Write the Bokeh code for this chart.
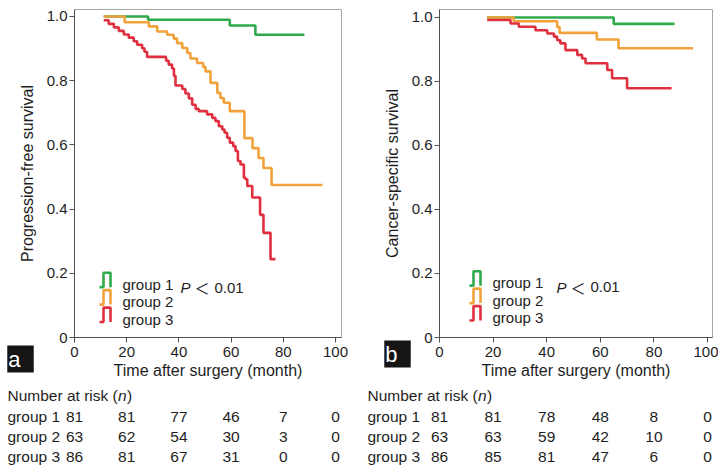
from bokeh.plotting import figure
from bokeh.models import Range1d, FixedTicker, CustomJSTickFormatter, Label, GridBox
from bokeh.embed import file_html
from bokeh.resources import INLINE

# ---------------- data ----------------
# Panel a: progression-free survival (Kaplan-Meier steps: time, survival after step)
pfs_g1_time = [11.2, 28.2, 59.5, 69.3, 88.1]
pfs_g1_surv = [1.000, 0.990, 0.972, 0.943, 0.943]

pfs_g2_time = [11.2, 19.2, 28.5, 31.7, 35.5, 38.0, 39.3, 41.3, 43.2, 44.4, 47.0, 49.3,
               50.2, 52.1, 54.7, 55.9, 57.2, 59.5, 65.1, 68.2, 70.5, 72.4, 75.5, 95.0]
pfs_g2_surv = [1.000, 0.982, 0.969, 0.953, 0.943, 0.931, 0.917, 0.902, 0.886, 0.869, 0.855, 0.843,
               0.829, 0.793, 0.762, 0.746, 0.731, 0.705, 0.621, 0.590, 0.559, 0.528, 0.475, 0.475]

pfs_g3_time = [11.2, 13.1, 15.1, 17.0, 18.9, 20.8, 22.7, 24.0, 25.9, 26.8, 27.8, 35.1,
               36.1, 37.4, 38.1, 38.7, 41.3, 42.5, 43.8, 45.1, 46.4, 47.6, 50.8, 52.8,
               54.0, 55.3, 56.6, 57.5, 58.5, 59.5, 60.8, 61.7, 62.6, 63.6, 64.9, 65.5,
               66.2, 68.1, 71.1, 72.4, 75.1, 77.0]
pfs_g3_surv = [0.988, 0.977, 0.966, 0.955, 0.944, 0.934, 0.923, 0.912, 0.901, 0.890, 0.874, 0.862,
               0.850, 0.838, 0.815, 0.785, 0.774, 0.760, 0.745, 0.725, 0.712, 0.705, 0.695, 0.684,
               0.674, 0.658, 0.648, 0.638, 0.622, 0.607, 0.596, 0.581, 0.550, 0.539, 0.498, 0.493,
               0.472, 0.436, 0.382, 0.326, 0.244, 0.244]

# Panel b: cancer-specific survival
css_g1_time = [17.8, 65.0, 87.7]
css_g1_surv = [1.000, 0.980, 0.980]

css_g2_time = [17.8, 27.7, 43.9, 44.8, 58.7, 66.8, 94.6]
css_g2_surv = [1.000, 0.988, 0.970, 0.952, 0.931, 0.904, 0.904]

css_g3_time = [17.8, 26.5, 29.6, 35.8, 40.2, 42.7, 43.9, 45.1, 47.0, 51.4, 53.2, 54.5,
               62.6, 64.4, 70.0, 86.6]
css_g3_surv = [0.992, 0.981, 0.971, 0.960, 0.950, 0.940, 0.929, 0.919, 0.898, 0.883, 0.872, 0.857,
               0.836, 0.810, 0.779, 0.779]

# Number at risk
risk_times = [0, 20, 40, 60, 80, 100]
pfs_risk_g1 = [81, 81, 77, 46, 7, 0]
pfs_risk_g2 = [63, 62, 54, 30, 3, 0]
pfs_risk_g3 = [86, 81, 67, 31, 0, 0]
css_risk_g1 = [81, 81, 78, 48, 8, 0]
css_risk_g2 = [63, 63, 59, 42, 10, 0]
css_risk_g3 = [86, 85, 81, 47, 6, 0]

group_names = ["group 1", "group 2", "group 3"]
x_ticks = [0, 20, 40, 60, 80, 100]
y_ticks = [0, 0.2, 0.4, 0.6, 0.8, 1.0]
p_text = "0.01"

# ---------------- styling ----------------
FONT = "Liberation Sans"
COLORS = ["#2faa4c", "#f2a23a", "#e0303f"]
AXIS_COLOR = "#505050"
OUTLINE_COLOR = "#a6a6a6"
TEXT_COLOR = "#1e1e1e"
PAGE_W, PAGE_H = 718, 471


def make_panel(cfg, curves, ylabel):
    L, R, T, B = cfg["frame"]
    x_end, y_top = cfg["x_end"], cfg["y_top"]
    ox = cfg["origin_x"]
    p = figure(width=cfg["width"], height=PAGE_H, output_backend="svg", toolbar_location=None,
               x_range=Range1d(0, x_end), y_range=Range1d(0, y_top),
               min_border_left=L - ox, min_border_right=cfg["width"] + ox - R,
               min_border_top=T, min_border_bottom=PAGE_H - B)
    p.grid.visible = False
    p.outline_line_color = OUTLINE_COLOR
    p.outline_line_width = 1

    def dx(px):
        return (px - L) / (R - L) * x_end

    def dy(py):
        return (B - py) / (B - T) * y_top

    for ax in (p.xaxis[0], p.yaxis[0]):
        ax.axis_line_color = AXIS_COLOR
        ax.major_tick_line_color = AXIS_COLOR
        ax.minor_tick_line_color = None
        ax.major_tick_in = 0
        ax.major_tick_out = 5
        ax.major_label_text_font = FONT
        ax.major_label_text_font_size = "15px"
        ax.major_label_text_color = TEXT_COLOR
        ax.axis_label_text_font = FONT
        ax.axis_label_text_font_size = "16px"
        ax.axis_label_text_font_style = "normal"
        ax.axis_label_text_color = TEXT_COLOR
    p.xaxis.ticker = FixedTicker(ticks=x_ticks)
    p.yaxis.ticker = FixedTicker(ticks=y_ticks)
    p.yaxis.formatter = CustomJSTickFormatter(code="return tick === 0 ? '0' : tick.toFixed(1);")
    p.xaxis.axis_label = "Time after surgery (month)"
    p.yaxis.axis_label = ylabel
    p.xaxis.major_label_standoff = 4
    p.xaxis.axis_label_standoff = 2
    p.yaxis.major_label_standoff = 2
    p.yaxis.axis_label_standoff = 8

    # survival curves
    for (t, s), c in zip(curves, COLORS):
        p.step(t, s, mode="after", line_color=c, line_width=2.6)

    # legend (step icons + names)
    lx = cfg["legend_x"]
    for i, (name, c) in enumerate(zip(group_names, COLORS)):
        base = cfg["legend_base"][i]
        top, bot = base - 11.5, base + 3
        xs = [lx, lx + 4, lx + 4, lx + 11, lx + 11]
        ys = [bot, bot, top, top, bot]
        p.line([dx(v) for v in xs], [dy(v) for v in ys], line_color=c, line_width=2.6)
        p.add_layout(Label(x=dx(lx + 23), y=dy(base), text=name, text_font=FONT,
                           text_font_size="15px", text_color=TEXT_COLOR,
                           text_baseline="alphabetic", text_align="left"))

    # P value
    px_, pb = cfg["p_pos"]
    p.add_layout(Label(x=dx(px_), y=dy(pb), text="P", text_font=FONT, text_font_style="italic",
                       text_font_size="15px", text_color=TEXT_COLOR, text_baseline="alphabetic"))
    p.add_layout(Label(x=dx(px_ + 14), y=dy(pb), text="\uff1c", text_font="Noto Sans CJK SC",
                       text_font_size="15px", text_color=TEXT_COLOR, text_baseline="alphabetic"))
    p.add_layout(Label(x=dx(px_ + 34), y=dy(pb), text=p_text, text_font=FONT,
                       text_font_size="15px", text_color=TEXT_COLOR, text_baseline="alphabetic"))
    return p


cfg_a = dict(frame=(74, 341, 8, 337), x_end=102.3, y_top=1.0217, origin_x=0, width=360,
             legend_x=99, legend_base=[283.5, 301, 318.5], p_pos=(180, 287),
             tag_center=(20, 358.5), table_left=7, table_head=395,
             table_rows=[416, 436, 456])
cfg_b = dict(frame=(439, 712, 9, 338), x_end=101.87, y_top=1.0249, origin_x=360, width=358,
             legend_x=469, legend_base=[283, 300.5, 318], p_pos=(556, 287.5),
             tag_center=(397, 353.5), table_left=367, table_head=395,
             table_rows=[416, 436, 456])

pa = make_panel(cfg_a,
                [(pfs_g1_time, pfs_g1_surv), (pfs_g2_time, pfs_g2_surv), (pfs_g3_time, pfs_g3_surv)],
                "Progression-free survival")
pb = make_panel(cfg_b,
                [(css_g1_time, css_g1_surv), (css_g2_time, css_g2_surv), (css_g3_time, css_g3_surv)],
                "Cancer-specific survival")

# ---------------- transparent overlay for texts outside the plot frames ----------------
ov = figure(width=PAGE_W, height=PAGE_H, output_backend="svg", toolbar_location=None,
            x_range=Range1d(0, PAGE_W), y_range=Range1d(PAGE_H, 0),
            x_axis_type=None, y_axis_type=None, min_border=0)
ov.grid.visible = False
ov.outline_line_color = None
ov.background_fill_alpha = 0
ov.border_fill_alpha = 0

# time scales of the two panels mapped onto the overlay's pixel space
for name, cfg in (("a", cfg_a), ("b", cfg_b)):
    L, R = cfg["frame"][0], cfg["frame"][1]
    k = (R - L) / cfg["x_end"]
    ov.extra_x_ranges[name] = Range1d(-L / k, (PAGE_W - L) / k)

fs = "15.5px"
for name, cfg, risks in (("a", cfg_a, [pfs_risk_g1, pfs_risk_g2, pfs_risk_g3]),
                         ("b", cfg_b, [css_risk_g1, css_risk_g2, css_risk_g3])):
    tx, ty = cfg["tag_center"]
    ov.add_layout(Label(x=tx, y=ty, text=" " + name + " ", text_font=FONT,
                        text_font_size="22px", text_color="white", text_align="center",
                        text_baseline="middle", background_fill_color="#151515",
                        background_fill_alpha=1.0, padding=1))
    tl, hb = cfg["table_left"], cfg["table_head"]
    ov.add_layout(Label(x=tl, y=hb, text="Number at risk (", text_font=FONT,
                        text_font_size=fs, text_color=TEXT_COLOR, text_baseline="alphabetic"))
    ov.add_layout(Label(x=tl + 110.5, y=hb, text="n", text_font=FONT, text_font_style="italic",
                        text_font_size=fs, text_color=TEXT_COLOR, text_baseline="alphabetic"))
    ov.add_layout(Label(x=tl + 119.5, y=hb, text=")", text_font=FONT,
                        text_font_size=fs, text_color=TEXT_COLOR, text_baseline="alphabetic"))
    for i, (gname, counts) in enumerate(zip(group_names, risks)):
        base = cfg["table_rows"][i]
        ov.add_layout(Label(x=tl, y=base, text=gname, text_font=FONT,
                            text_font_size=fs, text_color=TEXT_COLOR, text_baseline="alphabetic"))
        for t, n in zip(risk_times, counts):
            ov.add_layout(Label(x=t, y=base, x_range_name=name, text=str(n), text_font=FONT,
                                text_font_size=fs, text_color=TEXT_COLOR,
                                text_align="center", text_baseline="alphabetic"))

# the overlay spans extra empty grid tracks so that its frame is not aligned with the panels
layout = GridBox(children=[(pa, 1, 1), (pb, 1, 2), (ov, 0, 0, 3, 4)])
open("out.html", "w").write(file_html(layout, INLINE))
